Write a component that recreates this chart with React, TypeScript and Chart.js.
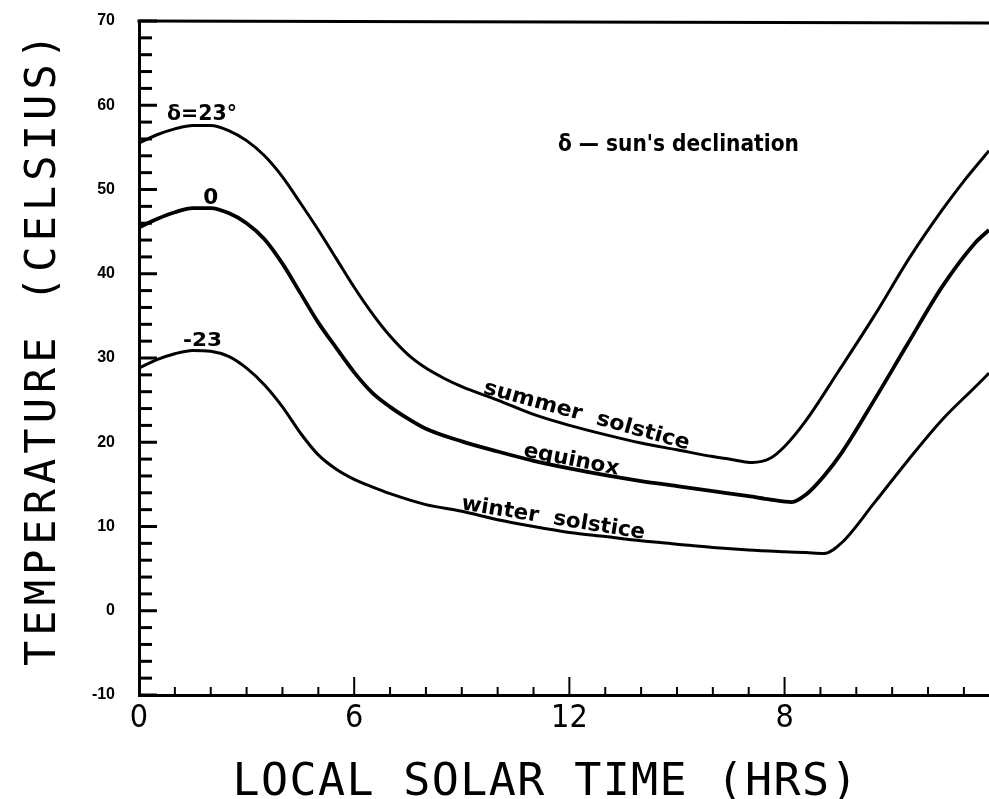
import React, { useEffect, useRef } from "react";
import { Chart, registerables } from "chart.js";

Chart.register(...registerables);

// ---- data ----
const summerHours = [0, 0.5, 1, 1.5, 2, 2.5, 3, 3.5, 4, 4.5, 5, 5.5, 6, 6.5, 7, 7.5, 8, 8.5, 9, 10, 11, 12, 13, 14, 15, 16, 16.6, 17.1, 17.6, 18.0, 18.6, 19.5, 20.5, 21.5, 22.4, 23.0, 23.7];
const summerTemps = [55.5, 56.5, 57.2, 57.6, 57.6, 57.0, 55.8, 54.0, 51.5, 48.4, 45.2, 41.8, 38.4, 35.3, 32.6, 30.4, 28.8, 27.6, 26.6, 25.0, 23.3, 22.0, 20.9, 19.9, 19.1, 18.3, 17.9, 17.6, 18.1, 19.5, 22.6, 28.4, 35.0, 42.0, 47.6, 51.0, 54.6];

const equinoxHours = [0, 0.5, 1, 1.5, 2, 2.5, 3, 3.5, 4, 4.5, 5, 5.5, 6, 6.5, 7, 7.5, 8, 9, 10, 11, 12, 13, 14, 15, 16, 17, 17.6, 18.2, 18.6, 19.1, 19.6, 20.5, 21.45, 22.4, 23.3, 23.7];
const equinoxTemps = [45.5, 46.5, 47.3, 47.8, 47.8, 47.2, 46.0, 44.1, 41.2, 37.7, 34.2, 31.2, 28.3, 25.9, 24.2, 22.8, 21.6, 20.1, 18.9, 17.8, 16.9, 16.1, 15.4, 14.8, 14.2, 13.6, 13.2, 12.9, 13.8, 16.0, 18.8, 25.0, 31.8, 38.5, 43.6, 45.2];

const winterHours = [0, 0.5, 1, 1.5, 2, 2.5, 3, 3.5, 4, 4.5, 5, 5.5, 6, 6.5, 7, 8, 9, 10, 11, 12, 13, 14, 15, 16, 17, 18, 18.6, 19.1, 19.6, 20.5, 21.45, 22.4, 23.3, 23.7];
const winterTemps = [28.8, 29.8, 30.5, 30.9, 30.8, 30.2, 28.8, 26.8, 24.2, 21.1, 18.5, 16.8, 15.6, 14.7, 13.9, 12.6, 11.8, 10.8, 10.0, 9.3, 8.8, 8.3, 7.9, 7.5, 7.2, 7.0, 6.9, 6.8, 8.1, 12.8, 17.9, 22.7, 26.5, 28.2];

const xTickValues = [0, 6, 12, 18];
const xTickLabels = ["0", "6", "12", "8"];
const yMin = -10;
const yMax = 70;
const xMax = 23.7;

const xTitle = "LOCAL SOLAR TIME (HRS)";
const yTitle = "TEMPERATURE (CELSIUS)";

// labels that lie along curves: start/end of baseline in data coordinates
const curveLabels = [
  { text: "summer  solstice", h1: 9.58, t1: 25.6, h2: 15.3, t2: 18.9 },
  { text: "equinox", h1: 10.7, t1: 18.1, h2: 13.35, t2: 15.9 },
  { text: "winter  solstice", h1: 8.97, t1: 11.8, h2: 14.08, t2: 8.3 },
];
// point labels: left/baseline in data coords, width in px
const pointLabels = [
  { text: "δ=23°", h: 0.78, t: 58.2, w: 70, size: 21 },
  { text: "0", h: 1.79, t: 48.3, w: 15, size: 22 },
  { text: "-23", h: 1.23, t: 31.4, w: 39, size: 20 },
  { text: "δ — sun's declination", h: 11.68, t: 54.6, w: 241, size: 23 },
];

const LABEL_FONT = '"DejaVu Sans", "Liberation Sans", sans-serif';
const TITLE_FONT = '"DejaVu Sans Mono", "Liberation Mono", monospace';

function drawFitted(ctx: CanvasRenderingContext2D, text: string, x: number, y: number, width: number, angle: number) {
  ctx.save();
  ctx.translate(x, y);
  ctx.rotate(angle);
  ctx.textAlign = "left";
  ctx.textBaseline = "alphabetic";
  const w = ctx.measureText(text).width;
  ctx.scale(width / w, 1);
  ctx.fillText(text, 0, 0);
  ctx.restore();
}

function drawSpaced(ctx: CanvasRenderingContext2D, text: string, cx: number, baseline: number, target: number) {
  const anyCtx = ctx as any;
  ctx.textAlign = "left";
  ctx.textBaseline = "alphabetic";
  const w0 = ctx.measureText(text).width;
  const n = text.length;
  if ("letterSpacing" in anyCtx) {
    const ls = (target - w0) / (n - 1);
    anyCtx.letterSpacing = ls + "px";
    ctx.fillText(text, cx - target / 2, baseline);
    anyCtx.letterSpacing = "0px";
  } else {
    ctx.save();
    ctx.translate(cx - target / 2, baseline);
    ctx.scale(target / w0, 1);
    ctx.fillText(text, 0, 0);
    ctx.restore();
  }
}

const decor = {
  id: "decor",
  afterDraw(chart: any) {
    const ctx: CanvasRenderingContext2D = chart.ctx;
    const xs = chart.scales.x;
    const ys = chart.scales.y;
    const area = chart.chartArea;
    ctx.save();
    ctx.strokeStyle = "#000";
    ctx.fillStyle = "#000";
    ctx.lineCap = "butt";

    // top frame line
    ctx.lineWidth = 3;
    ctx.beginPath();
    ctx.moveTo(area.left - 1.5, area.top);
    ctx.lineTo(area.right, area.top + 2);
    ctx.stroke();

    // inward ticks on y axis
    ctx.lineWidth = 3;
    for (let v = yMin; v <= yMax; v += 2) {
      const py = ys.getPixelForValue(v);
      const len = v % 10 === 0 ? 18 : 13;
      ctx.beginPath();
      ctx.moveTo(area.left, py);
      ctx.lineTo(area.left + len, py);
      ctx.stroke();
    }
    // inward ticks on x axis
    ctx.lineWidth = 2;
    for (let h = 1; h <= Math.floor(xMax); h += 1) {
      const px = xs.getPixelForValue(h);
      const len = h % 6 === 0 ? 18 : 8;
      ctx.beginPath();
      ctx.moveTo(px, area.bottom);
      ctx.lineTo(px, area.bottom - len);
      ctx.stroke();
    }

    // curve labels
    ctx.font = `bold 21px ${LABEL_FONT}`;
    for (const l of curveLabels) {
      const x1 = xs.getPixelForValue(l.h1);
      const y1 = ys.getPixelForValue(l.t1) - 2;
      const x2 = xs.getPixelForValue(l.h2);
      const y2 = ys.getPixelForValue(l.t2) - 2;
      const ang = Math.atan2(y2 - y1, x2 - x1);
      const len = Math.hypot(x2 - x1, y2 - y1);
      drawFitted(ctx, l.text, x1, y1, len, ang);
    }
    // point labels
    for (const l of pointLabels) {
      ctx.font = `bold ${l.size}px ${LABEL_FONT}`;
      drawFitted(ctx, l.text, xs.getPixelForValue(l.h), ys.getPixelForValue(l.t), l.w, 0);
    }

    // axis titles
    ctx.font = `45px ${TITLE_FONT}`;
    drawSpaced(ctx, xTitle, 545, 795, 625);
    ctx.save();
    ctx.translate(55, 350);
    ctx.rotate(-Math.PI / 2);
    ctx.font = `42px ${TITLE_FONT}`;
    drawSpaced(ctx, yTitle, 0, 0, 632);
    ctx.restore();

    ctx.restore();
  },
};

export default function App() {
  const ref = useRef<HTMLCanvasElement>(null);
  useEffect(() => {
    const canvas = ref.current;
    if (!canvas) return;
    const mk = (hours: number[], temps: number[], label: string, width: number) => ({
      label,
      data: hours.map((h, i) => ({ x: h, y: temps[i] })),
      borderColor: "#000",
      backgroundColor: "#000",
      borderWidth: width,
      pointRadius: 0,
      fill: false,
      cubicInterpolationMode: "monotone" as const,
    });
    const chart = new Chart(canvas, {
      type: "line",
      data: {
        datasets: [
          mk(summerHours, summerTemps, "summer solstice", 3),
          mk(equinoxHours, equinoxTemps, "equinox", 3.8),
          mk(winterHours, winterTemps, "winter solstice", 3),
        ],
      },
      options: {
        responsive: false,
        animation: false,
        devicePixelRatio: 1,
        events: [],
        layout: { padding: { top: 21, right: 0, left: 0, bottom: 0 } },
        plugins: { legend: { display: false }, tooltip: { enabled: false } },
        scales: {
          x: {
            type: "linear",
            min: 0,
            max: xMax,
            grid: { display: false, drawTicks: false },
            border: { display: true, color: "#000", width: 3 },
            afterBuildTicks: (s: any) => {
              s.ticks = xTickValues.map((v) => ({ value: v }));
            },
            afterFit: (s: any) => {
              s.height = 104;
              s.paddingLeft = 0;
              s.paddingRight = 0;
            },
            ticks: {
              padding: 4,
              color: "#000",
              autoSkip: false,
              maxRotation: 0,
              font: { family: '"Liberation Sans Narrow", "DejaVu Sans Condensed", "Liberation Sans", sans-serif', size: 32 },
              callback: (v: any) => {
                const i = xTickValues.indexOf(Number(v));
                return i >= 0 ? xTickLabels[i] : "";
              },
            },
          },
          y: {
            type: "linear",
            min: yMin,
            max: yMax,
            grid: { display: false, drawTicks: false },
            border: { display: true, color: "#000", width: 3 },
            afterFit: (s: any) => {
              s.width = 139;
              s.paddingTop = 0;
              s.paddingBottom = 0;
            },
            ticks: {
              stepSize: 10,
              padding: 24,
              color: "#000",
              font: { family: '"Liberation Sans", sans-serif', size: 16, weight: "bold" },
            },
          },
        },
      },
      plugins: [decor],
    } as any);
    return () => chart.destroy();
  }, []);
  return (
    <div style={{ position: "absolute", left: 0, top: 0, width: 989, height: 799, background: "#fff" }}>
      <canvas ref={ref} width={989} height={799} style={{ width: 989, height: 799, display: "block" }} />
    </div>
  );
}
